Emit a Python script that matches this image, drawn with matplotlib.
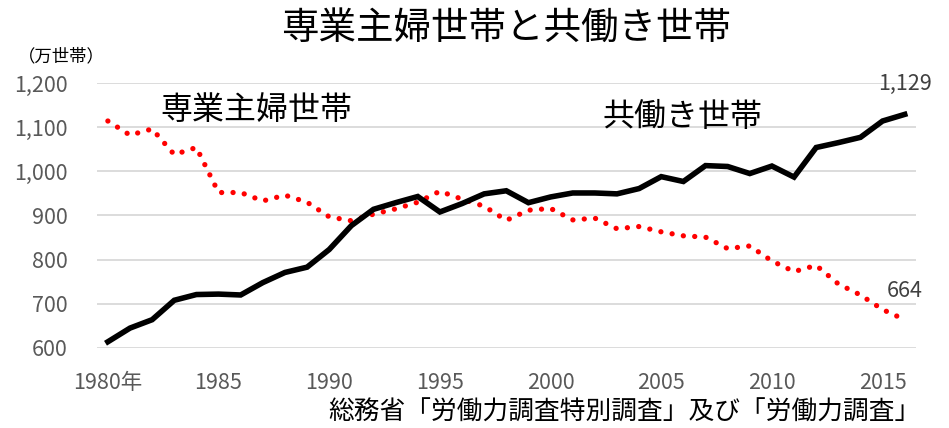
import matplotlib
matplotlib.use("Agg")
import matplotlib.pyplot as plt

plt.rcParams['font.family'] = ['Noto Sans CJK JP', 'DejaVu Sans']

years = list(range(1980, 2017))
dual_income = [614, 645, 664, 708, 721, 722, 720, 748, 771, 783,
               823, 877, 914, 929, 943, 908, 927, 949, 956, 929,
               942, 951, 951, 949, 961, 988, 977, 1013, 1011, 995,
               1012, 987, 1054, 1065, 1077, 1114, 1129]
housewife = [1114, 1082, 1096, 1038, 1054, 952, 952, 933, 946, 930,
             897, 888, 903, 915, 930, 955, 937, 921, 889, 912,
             916, 890, 894, 870, 875, 863, 854, 851, 825, 831,
             797, 773, 787, 745, 720, 687, 664]
yticks = [600, 700, 800, 900, 1000, 1100, 1200]
xtick_years = [1980, 1985, 1990, 1995, 2000, 2005, 2010, 2015]
xtick_labels = ['1980年', '1985', '1990', '1995', '2000', '2005', '2010', '2015']

fig = plt.figure(figsize=(9.49, 4.28), dpi=100)
ax = fig.add_axes([0.102, 0.187, 0.863, 0.619])

ax.plot(years, housewife, color='#ff0000', lw=3.8,
        linestyle=(0, (0.01, 2.15)), dash_capstyle='round', zorder=3)
ax.plot(years, dual_income, color='black', lw=4,
        solid_joinstyle='miter', zorder=4)

ax.set_xlim(1979.5, 2016.5)
ax.set_ylim(600, 1200)
ax.set_yticks(yticks)
ax.set_yticklabels([f'{v:,}' for v in yticks])
ax.set_xticks(xtick_years)
ax.set_xticklabels(xtick_labels)
ax.grid(axis='y', color='#d9d9d9', lw=1.3)
ax.set_axisbelow(True)
for s in ax.spines.values():
    s.set_visible(False)
ax.tick_params(length=0, labelsize=15.5, colors='#595959')
ax.tick_params(axis='x', pad=17)
ax.tick_params(axis='y', pad=21)

# title centred over the plot area
ax.set_title('専業主婦世帯と共働き世帯', fontsize=27, pad=32)
fig.text(0.065, 0.868, '（万世帯）', ha='center', va='center', fontsize=12.5)

ax.text(1986.7, 1138, '専業主婦世帯', ha='center', va='center', fontsize=23)
ax.text(2005.95, 1122, '共働き世帯', ha='center', va='center', fontsize=23)
ax.text(2016, 1172, f'{dual_income[-1]:,}', ha='center', va='bottom',
        fontsize=15.5, color='#404040')
ax.text(2016, 704, f'{housewife[-1]:,}', ha='center', va='bottom',
        fontsize=15.5, color='#404040')

fig.text(0.97, 0.035, '総務省「労働力調査特別調査」及び「労働力調査」',
         ha='right', va='center', fontsize=18.5)

fig.savefig('out.png', dpi=100)
